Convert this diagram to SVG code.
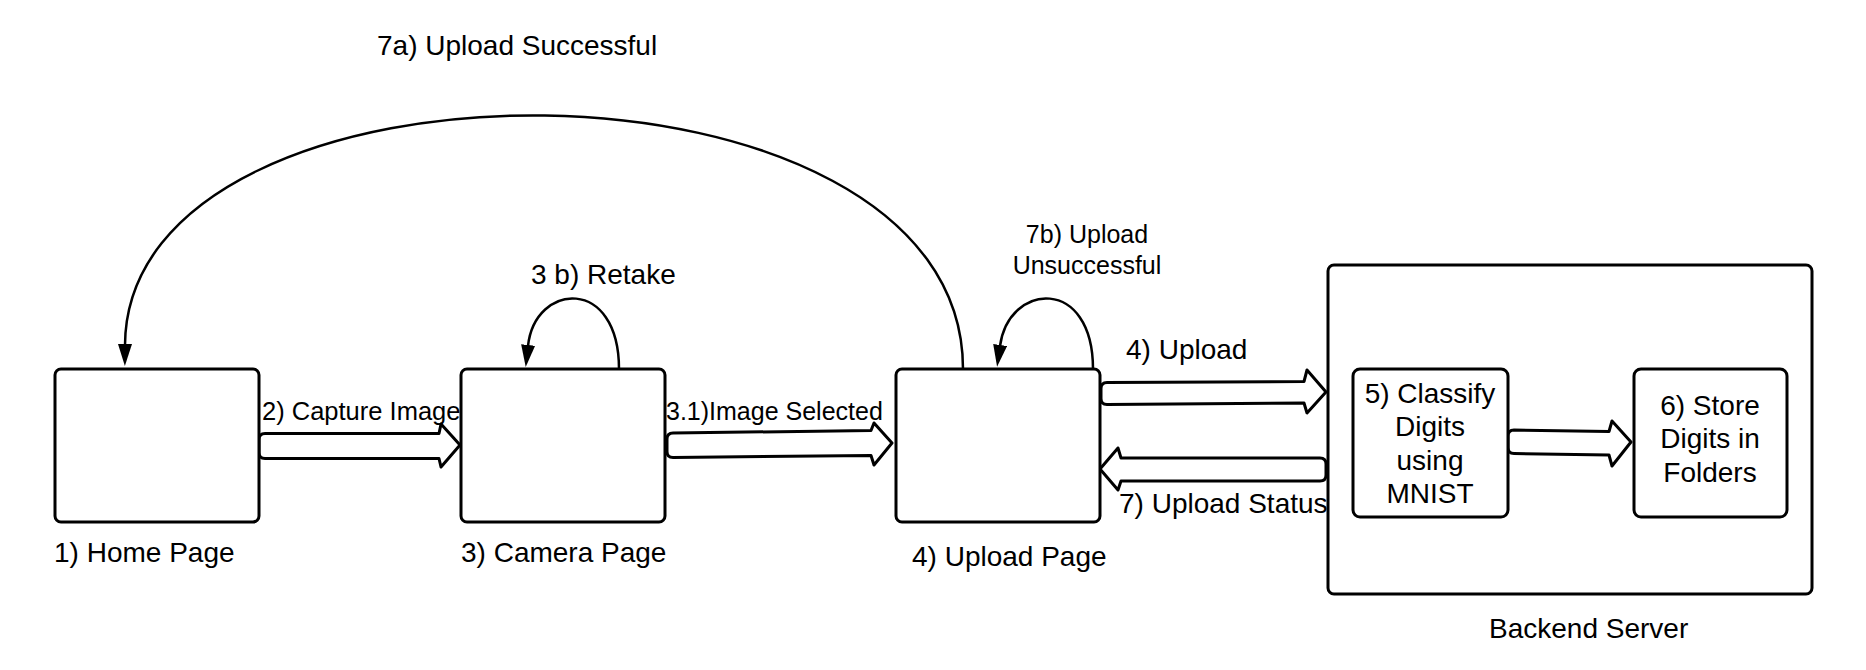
<svg xmlns="http://www.w3.org/2000/svg" width="1866" height="670" viewBox="0 0 1866 670">
  <defs>
    <style>
      .box { fill: #fff; stroke: #000; stroke-width: 3; }
      .curve { fill: none; stroke: #000; stroke-width: 2.5; }
      .block { fill: #fff; stroke: #000; stroke-width: 3; stroke-linejoin: round; }
      text { font-family: "Liberation Sans", Arial, sans-serif; fill: #000; }
      .lbl { font-size: 28px; }
      .sm { font-size: 25px; }
      .mid { text-anchor: middle; }
    </style>
    <marker id="ah" viewBox="0 0 22 14" refX="1" refY="7" markerWidth="22" markerHeight="14" markerUnits="userSpaceOnUse" orient="auto">
      <path d="M0,0 L22,7 L0,14 Z" fill="#000"/>
    </marker>
  </defs>
  <rect width="1866" height="670" fill="#fff"/>

  <g id="backend-server">
    <rect class="box" x="1328" y="265" width="484" height="329" rx="6"/>
    <text class="lbl" x="1489" y="638">Backend Server</text>
  </g>

  <g id="connectors">
    <path class="curve" d="M963,369 C963,35 127,35 125,345" marker-end="url(#ah)"/>
    <path class="curve" d="M619,369 C619,276 535,282 528,346" marker-end="url(#ah)"/>
    <path class="curve" d="M1093,369 C1093,276 1009,282 1000,346" marker-end="url(#ah)"/>
    <path class="block" d="M265,433.5 L439,433.5 L441,424 L460,445 L441,467 L439,458.5 L265,458.5 Q259,458.5 259,452.5 L259,439.5 Q259,433.5 265,433.5 Z"/>
    <path class="block" d="M673,433 L871,430.5 L874,423 L892,443 L874,465 L871,455.5 L673,457.5 Q667,457.5 667,451.5 L667,439 Q667,433 673,433 Z"/>
    <path class="block" d="M1107,382.5 L1304,381.5 L1307,370 L1326,392 L1307,413 L1304,403 L1107,404.5 Q1101,404.5 1101,398.5 L1101,388.5 Q1101,382.5 1107,382.5 Z"/>
    <path class="block" d="M1320,458 L1121,458 L1118,448 L1100,469 L1118,490 L1121,481 L1320,481 Q1326,481 1326,475 L1326,464 Q1326,458 1320,458 Z"/>
    <path class="block" d="M1514,430 L1609,431.5 L1612,421 L1631,442 L1612,466 L1609,455 L1514,453.5 Q1508,453.5 1508,447.5 L1508,436 Q1508,430 1514,430 Z"/>
    <text class="lbl" x="377" y="55">7a) Upload Successful</text>
    <text class="lbl" x="531" y="284">3 b) Retake</text>
    <text class="sm mid" x="1087" y="243">7b) Upload</text>
    <text class="sm mid" x="1087" y="274">Unsuccessful</text>
    <text class="lbl" x="1126" y="359">4) Upload</text>
    <text class="sm" x="262" y="420" style="font-size:25.5px">2) Capture Image</text>
    <text class="sm" x="666" y="420">3.1)Image Selected</text>
    <text class="lbl" x="1119" y="513">7) Upload Status</text>
  </g>

  <g id="home-page">
    <rect class="box" x="55" y="369" width="204" height="153" rx="6"/>
    <text class="lbl" x="54" y="562">1) Home Page</text>
  </g>

  <g id="camera-page">
    <rect class="box" x="461" y="369" width="204" height="153" rx="6"/>
    <text class="lbl" x="461" y="562">3) Camera Page</text>
  </g>

  <g id="upload-page">
    <rect class="box" x="896" y="369" width="204" height="153" rx="6"/>
    <text class="lbl" x="912" y="566">4) Upload Page</text>
  </g>

  <g id="classify-digits">
    <rect class="box" x="1353" y="369" width="155" height="148" rx="7"/>
    <text class="lbl mid" x="1430" y="403">5) Classify</text>
    <text class="lbl mid" x="1430" y="436">Digits</text>
    <text class="lbl mid" x="1430" y="470">using</text>
    <text class="lbl mid" x="1430" y="503">MNIST</text>
  </g>

  <g id="store-digits">
    <rect class="box" x="1634" y="369" width="153" height="148" rx="7"/>
    <text class="lbl mid" x="1710" y="415">6) Store</text>
    <text class="lbl mid" x="1710" y="448">Digits in</text>
    <text class="lbl mid" x="1710" y="482">Folders</text>
  </g>
</svg>
